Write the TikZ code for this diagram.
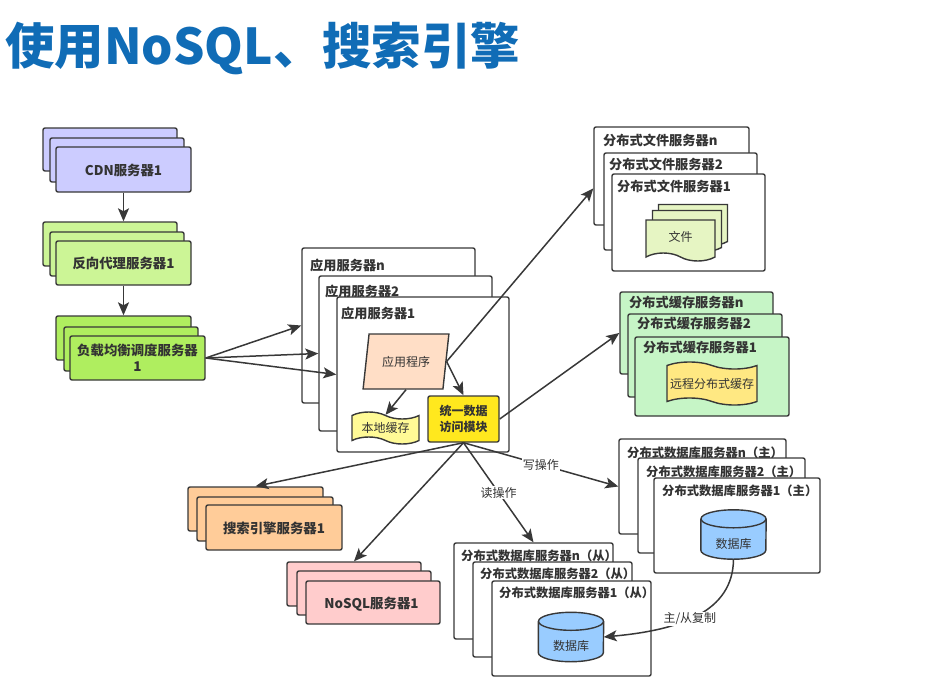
\documentclass[tikz,border=0pt]{standalone}
\usepackage{fontspec}
\setmainfont{Noto Sans CJK SC}
\usetikzlibrary{shapes.geometric, shapes.symbols, arrows.meta}
\definecolor{SysLine}{RGB}{56,56,56}
\definecolor{SysText}{RGB}{51,51,51}
\definecolor{SysTitle}{RGB}{16,108,182}
\definecolor{SysCdn}{RGB}{204,204,255}
\definecolor{SysProxy}{RGB}{204,245,150}
\definecolor{SysLb}{RGB}{175,238,95}
\definecolor{SysSearch}{RGB}{255,204,153}
\definecolor{SysNosql}{RGB}{255,204,204}
\definecolor{SysCache}{RGB}{198,245,198}
\definecolor{SysApp}{RGB}{255,222,198}
\definecolor{SysTape}{RGB}{255,250,150}
\definecolor{SysRemote}{RGB}{255,232,130}
\definecolor{SysUnify}{RGB}{255,232,30}
\definecolor{SysFile}{RGB}{230,245,195}
\definecolor{SysDb}{RGB}{153,204,255}
\newcommand{\dbdrum}[3]{%
  \node[minimum width=65pt, minimum height=49pt, inner sep=0pt] (#1) at (#2,#3) {};
  \draw[drum] ([yshift=-9pt]#1.north west) -- ([yshift=9pt]#1.south west)
    arc[start angle=180, end angle=360, x radius=32.5pt, y radius=9pt]
    -- ([yshift=-9pt]#1.north east);
  \draw[drum] ([yshift=-9pt]#1.north) ellipse[x radius=32.5pt, y radius=9pt];
  \node[part, draw=none] (#1txt) at ([yshift=-9pt]#1.center) {数据库};
}

\begin{document}
\begin{tikzpicture}[x=1pt, y=-1pt,
    srv/.style={rectangle, rounded corners=2pt, draw=SysLine, line width=1.4pt,
                inner sep=0pt, align=center, text=SysText, text depth=0pt,
                font=\fontsize{13.4}{16}\selectfont\bfseries},
    ttl/.style={anchor=west, inner sep=0pt, text=SysText,
                font=\fontsize{13.2}{16}\selectfont\bfseries},
    part/.style={draw=SysLine, line width=1.4pt, inner sep=0pt, align=center,
                 text=SysText, font=\fontsize{12}{15}\selectfont},
    doc/.style={part, tape, tape bend top=none, tape bend bottom=out and in,
                tape bend height=8pt, fill=SysFile, minimum width=69pt, minimum height=41pt},
    wave/.style={part, tape, tape bend top=out and in, tape bend bottom=out and in,
                 tape bend height=7pt},
    drum/.style={draw=SysLine, line width=1.4pt, fill=SysDb},
    link/.style={-{Stealth[length=13pt,width=11pt,inset=3pt]}, draw=SysLine, line width=1.5pt},
    tag/.style={fill=white, inner sep=1pt, text=SysText, font=\fontsize{12}{15}\selectfont}
  ]
  \useasboundingbox (0,0) rectangle (926,699);
  \node[anchor=west, inner sep=0pt, text=SysTitle, font=\fontsize{49.4}{56}\selectfont\bfseries]
    (title) at (5,48) {使用NoSQL、搜索引擎};

  % Plain server stacks
  \foreach \nm/\x/\y/\w/\h/\col/\txt in {
    cdnn/110/149.5/134/43/SysCdn/{},
    cdn2/117/160/134/44/SysCdn/{},
    cdn1/123.5/169.5/135/45/SysCdn/{CDN服务器1},
    proxyn/110/244/134/44/SysProxy/{},
    proxy2/117/254/134/44/SysProxy/{},
    proxy1/123.5/263/135/44/SysProxy/{反向代理服务器1},
    lbn/123.5/338/135/44/SysLb/{},
    lb2/131/349/134/44/SysLb/{},
    lb1/137.5/358/135/44/SysLb/{负载均衡调度服务器\\1},
    searchn/255.5/509/135/44/SysSearch/{},
    search2/265/519/136/44/SysSearch/{},
    search1/274/527.5/136/45/SysSearch/{搜索引擎服务器1},
    nosqln/354/584/134/44/SysNosql/{},
    nosql2/364/593/134/44/SysNosql/{},
    nosql1/373/602.5/134/43/SysNosql/{NoSQL服务器1}
  }{
    \node[srv, fill=\col, minimum width=\w pt, minimum height=\h pt] (\nm) at (\x,\y) {\txt};
  }

  % Server stacks with a heading
  \foreach \nm/\x/\y/\w/\h/\col/\tx/\ty/\txt in {
    appn/388.5/325.5/173/155/white/310/265/{应用服务器n},
    app2/405.5/353.5/173/155/white/325/291/{应用服务器2},
    app1/423/374.5/172/155/white/341/313/{应用服务器1},
    filen/671.5/176/155/98/white/603/140/{分布式文件服务器n},
    file2/680.5/201.5/153/97/white/609/164/{分布式文件服务器2},
    file1/688.5/222.5/153/97/white/617/186/{分布式文件服务器1},
    cachen/696.5/333/153/82/SysCache/629/302/{分布式缓存服务器n},
    cache2/705/355.5/154/83/SysCache/637/323/{分布式缓存服务器2},
    cache1/712/376.5/154/79/SysCache/643/347/{分布式缓存服务器1}
  }{
    \node[srv, fill=\col, minimum width=\w pt, minimum height=\h pt] (\nm) at (\x,\y) {};
    \node[ttl] (\nm txt) at (\tx,\ty) {\txt};
  }
  \foreach \nm/\x/\y/\w/\h/\tx/\ty/\txt in {
    dbmn/702.5/486.5/167/95/627/453/{分布式数据库服务器n（主）},
    dbm2/721.5/505.5/167/95/646/472/{分布式数据库服务器2（主）},
    dbm1/737/525.5/166/95/662/491/{分布式数据库服务器1（主）},
    dbsn/533.5/591/159/96/461/556/{分布式数据库服务器n（从）},
    dbs2/552.5/609.5/159/95/480/574/{分布式数据库服务器2（从）},
    dbs1/571.5/628.5/159/95/499/593/{分布式数据库服务器1（从）}
  }{
    \node[srv, fill=white, minimum width=\w pt, minimum height=\h pt] (\nm) at (\x,\y) {};
    \node[ttl, font=\fontsize{12.3}{15}\selectfont\bfseries] (\nm txt) at (\tx,\ty) {\txt};
  }

  % Parts inside the servers
  \node[part, trapezium, trapezium left angle=71, trapezium right angle=109,
        trapezium stretches=true, fill=SysApp, minimum width=86pt, minimum height=55pt]
       (prog) at (406,361.5) {应用程序};
  \node[wave, fill=SysTape, minimum width=67pt, minimum height=32pt] (local) at (385.5,428) {本地缓存};
  \node[part, rectangle, rounded corners=2pt, fill=SysUnify, minimum width=71pt, minimum height=46pt,
        font=\fontsize{12}{16}\selectfont\bfseries] (unify) at (463.5,419) {统一数据\\访问模块};
  \node[doc] (doc3) at (693,221) {};
  \node[doc] (doc2) at (687,227) {};
  \node[doc] (doc1) at (680.5,236.5) {文件};
  \node[wave, fill=SysRemote, minimum width=90pt, minimum height=43pt] (remote) at (712,383.5) {远程分布式缓存};
  \dbdrum{dbm}{733.5}{534.5}
  \dbdrum{dbs}{571}{637}

  % Connectors
  \draw[link] (cdn1.south) -- (cdn1.south |- proxyn.north);
  \draw[link] (proxy1.south) -- (lbn.north);
  \foreach \t in {appn, app2, app1}{
    \draw[link] (lb1.east) -- (\t.west);
  }
  \draw[link] (prog.east) -- (filen.189);
  \draw[link] (prog.south) -- (local.north);
  \draw[link] (prog.east) -- (unify.north);
  \draw[link] (unify.east) -- (cachen.west);
  \draw[link] (unify.south) -- (searchn.north);
  \draw[link] (unify.south) -- (nosqln.north);
  \draw[link] (unify.south) -- node[tag, pos=0.5] (readtag) {读操作} (dbsn.north);
  \draw[link] (unify.south) -- node[tag, pos=0.5] (writetag) {写操作} (dbmn.west);
  \draw[link] (dbm.south) .. controls (733,612) and (680,630) .. node[tag, pos=0.55] (copytag) {主/从复制} (dbs.east);
\end{tikzpicture}
\end{document}
